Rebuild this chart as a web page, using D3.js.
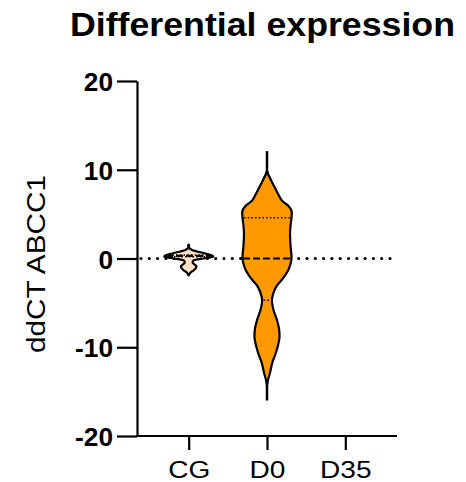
<!DOCTYPE html>
<html>
<head>
<meta charset="utf-8">
<script src="https://cdn.jsdelivr.net/npm/d3@7"></script>
<style>
  html, body { margin: 0; padding: 0; background: #fff; }
  svg { display: block; }
  text { font-family: "Liberation Sans", Arial, sans-serif; fill: #000; }
</style>
</head>
<body>
<svg id="chart" width="466" height="482"></svg>
<script>
// ---- data ----
const title = "Differential expression";
const yLabel = "ddCT ABCC1";
const categories = ["CG", "D0", "D35"];
const yTicks = [-20, -10, 0, 10, 20];

// violin outlines: value levels and relative density (max = 1)
const cgValues  = [1.57, 1.12, 0.9, 0.67, 0.45, 0.22, 0, -0.22, -0.45, -0.67, -0.9, -1.12, -1.35, -1.57, -1.9];
const cgDensity = [0, 0.04, 0.2, 0.52, 0.84, 1.0, 0.6, 0.2, 0.16, 0.24, 0.32, 0.28, 0.2, 0.08, 0];
const cgStats = { min: -1.9, q1: 0.2, median: 0.3, q3: 0.4, max: 1.6 };

const d0Values  = [9.9, 9.55, 8.43, 7.3, 6.52, 5.96, 5.39, 4.61, 3.71, 2.81, 1.46, 0, -0.79, -1.35, -2.25, -3.03, -3.82, -4.72, -5.84, -6.97, -7.87, -8.88, -10.0, -10.9, -11.7, -12.9, -13.7, -14.3];
const d0Density = [0, 0.04, 0.24, 0.45, 0.61, 0.86, 1.0, 1.0, 0.96, 0.94, 0.96, 1.0, 0.94, 0.86, 0.65, 0.41, 0.27, 0.2, 0.27, 0.41, 0.49, 0.51, 0.43, 0.33, 0.22, 0.12, 0.04, 0];
const d0Stats = { min: -16.0, q1: -4.7, median: 0, q3: 4.6, max: 12.1 };

const violins = [
  { cat: "CG", values: cgValues, density: cgDensity, stats: cgStats, fill: "#FFE0C2" },
  { cat: "D0", values: d0Values, density: d0Density, stats: d0Stats, fill: "#FF9900" }
];

// ---- layout ----
const svg = d3.select("#chart");
const x = d3.scalePoint().domain(categories).range([137, 397]).padding(0.66);
const y = d3.scaleLinear().domain([-20, 20]).range([436, 81]);
const w = d3.scaleLinear().domain([0, 1]).range([0, 24.5]);

// zero reference line (dotted)
svg.append("line")
  .attr("x1", 141).attr("x2", 397)
  .attr("y1", y(0)).attr("y2", y(0))
  .attr("stroke", "#000").attr("stroke-width", 3.2)
  .attr("stroke-linecap", "round")
  .attr("stroke-dasharray", "0 8.3");

function widthAt(v, vals, dens) {
  for (let i = 0; i < vals.length - 1; i++) {
    const a = vals[i], b = vals[i + 1];
    if ((v <= a && v >= b)) {
      const t = (a - v) / (a - b);
      return dens[i] + t * (dens[i + 1] - dens[i]);
    }
  }
  return 0;
}

violins.forEach(vd => {
  const cx = x(vd.cat);
  const g = svg.append("g");
  // min-max line
  g.append("line")
    .attr("x1", cx).attr("x2", cx)
    .attr("y1", y(vd.stats.max)).attr("y2", y(vd.stats.min))
    .attr("stroke", "#000").attr("stroke-width", 2.5);
  const pts = vd.values.map((v, i) => ({ v, d: vd.density[i] }));
  const area = d3.area()
    .y(p => y(p.v))
    .x0(p => cx - w(p.d))
    .x1(p => cx + w(p.d))
    .curve(d3.curveCatmullRom.alpha(0.5));
  g.append("path")
    .datum(pts)
    .attr("d", area)
    .attr("fill", vd.fill)
    .attr("stroke", "#000")
    .attr("stroke-width", 2.2)
    .attr("stroke-linejoin", "round");
  // quartiles
  [vd.stats.q1, vd.stats.q3].forEach(q => {
    const hw = w(widthAt(q, vd.values, vd.density)) - 1.5;
    g.append("line")
      .attr("x1", cx - hw).attr("x2", cx + hw)
      .attr("y1", y(q)).attr("y2", y(q))
      .attr("stroke", "#000").attr("stroke-width", 1.4)
      .attr("stroke-dasharray", "1.5 2.2");
  });
  const hwm = w(widthAt(vd.stats.median, vd.values, vd.density)) - 0.5;
  g.append("line")
    .attr("x1", cx - hwm).attr("x2", cx + hwm)
    .attr("y1", y(vd.stats.median)).attr("y2", y(vd.stats.median))
    .attr("stroke", "#000").attr("stroke-width", 2.2)
    .attr("stroke-dasharray", "7 3");
});

// axes
const yAxis = svg.append("g")
  .attr("transform", "translate(137,0)")
  .call(d3.axisLeft(y).tickValues(yTicks).tickFormat(d => String(d))
    .tickSize(20).tickPadding(4).tickSizeOuter(0));
yAxis.select(".domain").attr("stroke-width", 2.2);
yAxis.selectAll(".tick line").attr("stroke-width", 2.2);
yAxis.selectAll(".tick text")
  .style("font-size", "25px").style("font-weight", "bold")
  .attr("dy", "0.38em")
  .attr("textLength", function () { return this.getComputedTextLength() * 1.05; })
  .attr("lengthAdjust", "spacingAndGlyphs");

const xAxis = svg.append("g")
  .attr("transform", "translate(0,436)")
  .call(d3.axisBottom(x).tickSize(14).tickPadding(12).tickSizeOuter(0));
xAxis.select(".domain").attr("d", "M137,0H397").attr("stroke-width", 2.2);
xAxis.selectAll(".tick line").attr("stroke-width", 2.2);
xAxis.selectAll(".tick text")
  .style("font-size", "23px")
  .attr("textLength", function () { return this.getComputedTextLength() * 1.22; })
  .attr("lengthAdjust", "spacingAndGlyphs");

// title
svg.append("text")
  .attr("x", 70).attr("y", 36)
  .style("font-size", "33px").style("font-weight", "bold")
  .attr("textLength", 385).attr("lengthAdjust", "spacingAndGlyphs")
  .text(title);

// y label
svg.append("text")
  .attr("transform", "translate(45,264) rotate(-90)")
  .attr("text-anchor", "middle")
  .style("font-size", "25px")
  .attr("textLength", 178).attr("lengthAdjust", "spacingAndGlyphs")
  .text(yLabel);
</script>
</body>
</html>
